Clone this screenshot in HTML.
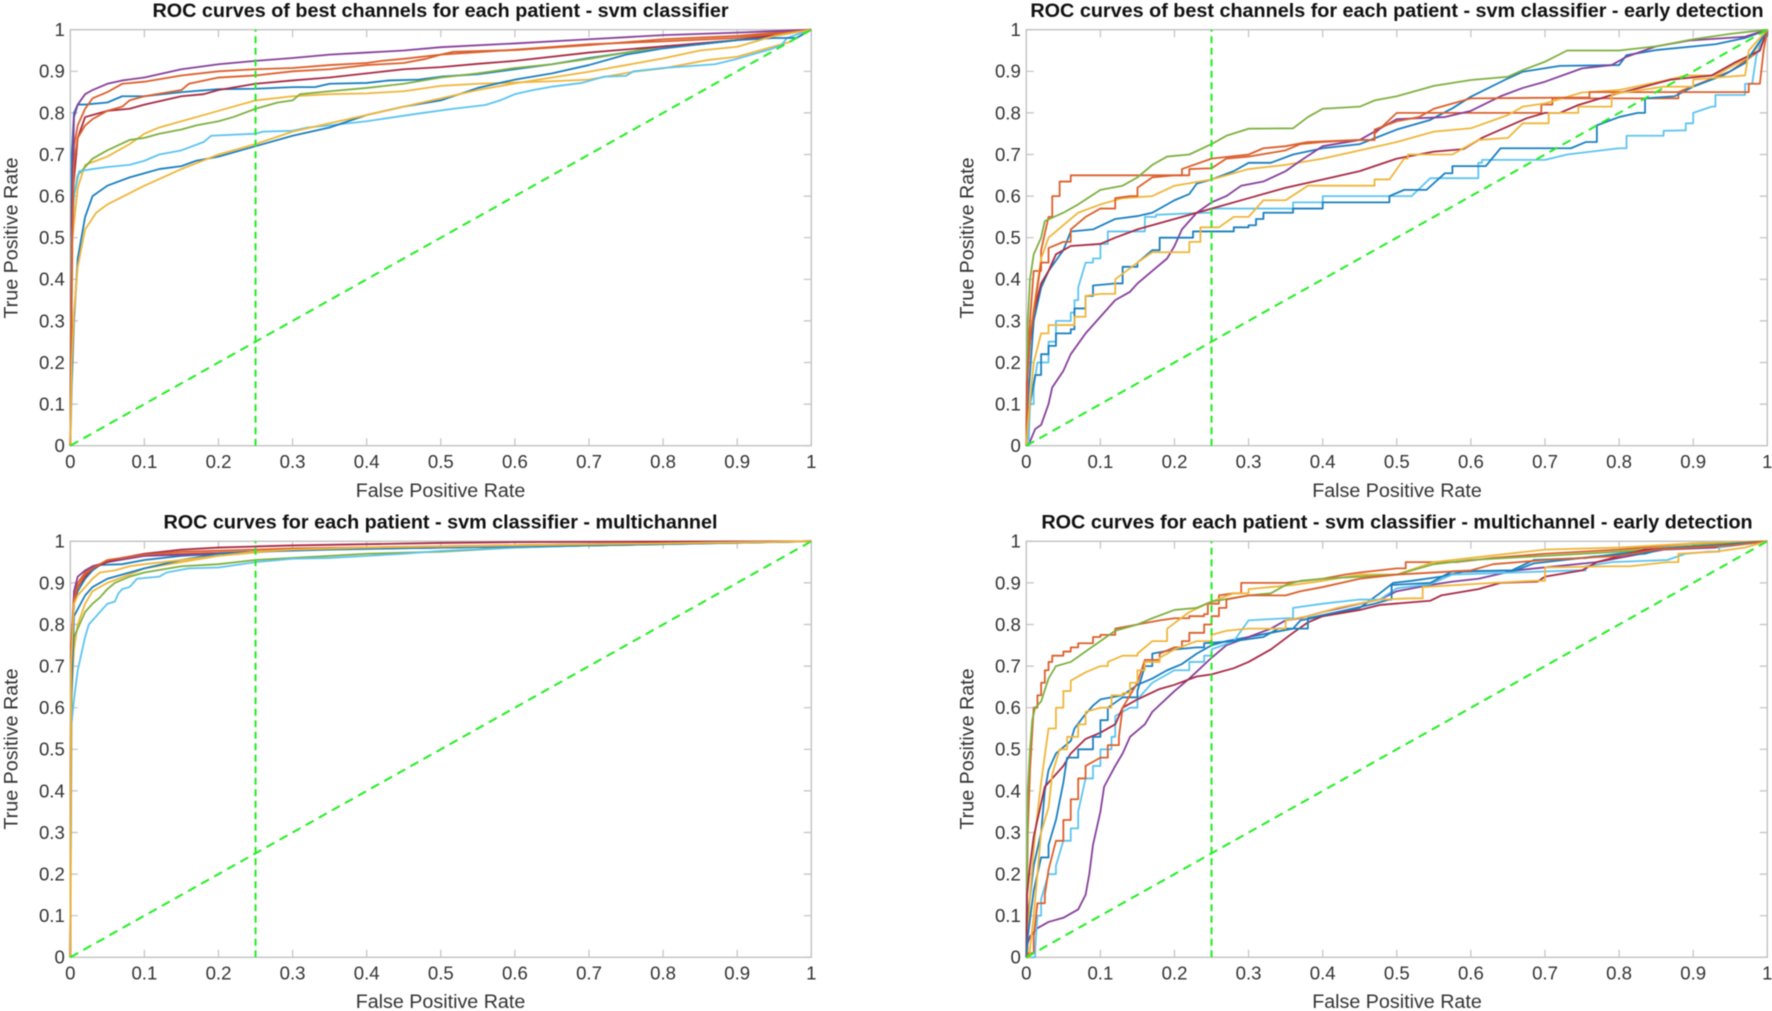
<!DOCTYPE html>
<html lang="en">
<head>
<meta charset="utf-8">
<title>ROC curves - svm classifier</title>
<style>
  html, body { margin: 0; padding: 0; background: #fff; }
  #figure { display: block; width: 1772px; height: 1011px; filter: blur(0.45px); }
  text { font-family: "Liberation Sans", Arial, sans-serif; }
  .title { font-size: 19.8px; font-weight: bold; fill: #111; text-anchor: middle; }
  .axis-title { font-size: 19.7px; fill: #333; text-anchor: middle; }
  .tick-label { font-size: 18.6px; fill: #333; }
</style>
</head>
<body>
<svg id="figure" xmlns="http://www.w3.org/2000/svg" width="1772" height="1011" viewBox="0 0 1772 1011">
  <rect x="0" y="0" width="1772" height="1011" fill="#fff"/>

  <g id="panel-tl">
    <text class="title" x="440.5" y="17">ROC curves of best channels for each patient - svm classifier</text>
    <text class="axis-title" x="440.5" y="497">False Positive Rate</text>
    <text class="axis-title" transform="translate(17.5,238) rotate(-90)">True Positive Rate</text>
  </g>
  <g id="panel-tr">
    <text class="title" x="1397" y="17">ROC curves of best channels for each patient - svm classifier - early detection</text>
    <text class="axis-title" x="1397" y="497">False Positive Rate</text>
    <text class="axis-title" transform="translate(973.5,238) rotate(-90)">True Positive Rate</text>
  </g>
  <g id="panel-bl">
    <text class="title" x="440.5" y="528.5">ROC curves for each patient - svm classifier - multichannel</text>
    <text class="axis-title" x="440.5" y="1008">False Positive Rate</text>
    <text class="axis-title" transform="translate(17.5,749) rotate(-90)">True Positive Rate</text>
  </g>
  <g id="panel-br">
    <text class="title" x="1397" y="528.5">ROC curves for each patient - svm classifier - multichannel - early detection</text>
    <text class="axis-title" x="1397" y="1008">False Positive Rate</text>
    <text class="axis-title" transform="translate(973.5,749) rotate(-90)">True Positive Rate</text>
  </g>
</svg>

<script>
// Axis data
const tickValues = [0, 0.1, 0.2, 0.3, 0.4, 0.5, 0.6, 0.7, 0.8, 0.9, 1];
const tickLabels = ['0', '0.1', '0.2', '0.3', '0.4', '0.5', '0.6', '0.7', '0.8', '0.9', '1'];
const thresholdFpr = [0.25];
const chanceLine = [[0, 0], [1, 1]];

// Top-left: best channels
const tlBlue1 = [[0,0],[.002,.7],[.005,.8],[.01,.82],[.02,.82],[.05,.825],[.07,.84],[.1,.84],[.15,.85],[.2,.857],[.25,.858],[.3,.862],[.33,.862],[.35,.87],[.4,.872],[.43,.878],[.47,.88],[.5,.887],[.55,.893],[.6,.905],[.65,.917],[.7,.932],[.75,.945],[.8,.96],[.85,.965],[.9,.975],[.95,.985],[1,1]];
const tlOrange1 = [[0,0],[.002,.5],[.005,.72],[.01,.77],[.02,.81],[.03,.835],[.05,.85],[.07,.87],[.1,.875],[.15,.89],[.2,.9],[.25,.905],[.3,.908],[.35,.915],[.4,.92],[.42,.925],[.45,.93],[.5,.94],[.517,.947],[.6,.951],[.7,.963],[.8,.977],[.9,.985],[1,1]];
const tlYellow1 = [[0,0],[.003,.5],[.01,.62],[.02,.675],[.035,.685],[.05,.695],[.08,.725],[.1,.75],[.12,.765],[.15,.78],[.2,.805],[.25,.83],[.3,.84],[.35,.845],[.4,.847],[.45,.852],[.5,.865],[.55,.87],[.6,.873],[.65,.876],[.7,.88],[.76,.899],[.8,.907],[.86,.927],[.9,.935],[.97,.97],[1,1]];
const tlPurple = [[0,0],[.002,.55],[.005,.79],[.01,.82],[.02,.845],[.03,.855],[.05,.87],[.07,.878],[.1,.885],[.15,.905],[.2,.917],[.25,.925],[.3,.932],[.35,.94],[.4,.945],[.45,.95],[.5,.958],[.6,.967],[.7,.977],[.8,.987],[.9,.993],[1,1]];
const tlGreen = [[0,0],[.002,.5],[.005,.6],[.01,.65],[.02,.67],[.03,.69],[.05,.71],[.08,.735],[.1,.74],[.12,.75],[.15,.76],[.17,.77],[.2,.78],[.22,.79],[.25,.81],[.28,.825],[.3,.83],[.31,.845],[.35,.852],[.4,.86],[.45,.87],[.5,.885],[.55,.895],[.6,.908],[.65,.917],[.7,.93],[.75,.945],[.8,.96],[.85,.965],[.9,.975],[1,1]];
const tlLightBlue = [[0,0],[.002,.5],[.005,.6],[.012,.66],[.03,.665],[.05,.67],[.08,.675],[.1,.685],[.12,.7],[.15,.71],[.18,.73],[.19,.745],[.25,.75],[.26,.755],[.3,.757],[.32,.765],[.35,.77],[.4,.78],[.472,.799],[.517,.81],[.56,.819],[.58,.83],[.6,.845],[.625,.855],[.65,.863],[.69,.872],[.72,.887],[.75,.889],[.76,.9],[.8,.908],[.87,.917],[.9,.93],[.945,.953],[.96,.963],[.967,.98],[1,1]];
const tlDarkRed = [[0,0],[.003,.6],[.01,.74],[.02,.79],[.03,.795],[.05,.805],[.08,.81],[.1,.82],[.15,.84],[.18,.845],[.2,.855],[.25,.87],[.3,.878],[.35,.885],[.4,.895],[.45,.905],[.5,.91],[.55,.918],[.6,.925],[.7,.945],[.8,.96],[.9,.975],[1,1]];
const tlBlue2 = [[0,0],[.002,.15],[.005,.3],[.01,.45],[.02,.55],[.03,.6],[.05,.625],[.08,.645],[.1,.655],[.12,.665],[.15,.672],[.17,.685],[.2,.695],[.25,.72],[.3,.745],[.35,.765],[.4,.795],[.45,.815],[.5,.83],[.55,.86],[.6,.88],[.65,.895],[.7,.915],[.75,.94],[.8,.955],[.85,.965],[.9,.975],[.95,.98],[.98,.98],[1,1]];
const tlOrange2 = [[0,0],[.002,.45],[.005,.68],[.01,.74],[.02,.77],[.03,.785],[.05,.805],[.07,.815],[.08,.83],[.1,.84],[.15,.855],[.16,.87],[.2,.885],[.25,.89],[.3,.9],[.35,.905],[.4,.915],[.45,.92],[.48,.93],[.5,.94],[.6,.952],[.7,.965],[.8,.972],[.9,.98],[1,1]];
const tlYellow2 = [[0,0],[.002,.2],[.005,.32],[.01,.43],[.02,.52],[.035,.56],[.05,.58],[.1,.625],[.15,.665],[.2,.7],[.25,.725],[.3,.755],[.35,.775],[.4,.795],[.45,.815],[.5,.835],[.55,.855],[.6,.871],[.65,.885],[.7,.899],[.75,.915],[.8,.931],[.85,.95],[.9,.959],[.95,.985],[1,1]];

// Top-right: best channels, early detection
const trBlue1 = [[0,0],[.002,.1],[.01,.3],[.02,.38],[.03,.42],[.05,.47],[.06,.515],[.09,.52],[.12,.545],[.15,.552],[.17,.56],[.2,.59],[.22,.605],[.23,.63],[.25,.64],[.28,.66],[.3,.68],[.33,.68],[.36,.7],[.4,.715],[.45,.725],[.5,.76],[.545,.783],[.575,.811],[.6,.839],[.65,.883],[.67,.899],[.72,.913],[.8,.915],[.81,.939],[.85,.951],[.93,.965],[.97,.98],[1,1]];
const trOrange1 = [[0,0],[.002,.2],[.005,.3],[.01,.42],[.02,.47],[.03,.55],[.035,.6],[.045,.635],[.06,.65],[.2,.65],[.21,.665],[.25,.69],[.3,.7],[.32,.715],[.35,.72],[.38,.73],[.45,.735],[.47,.75],[.5,.8],[.69,.8],[.695,.82],[.71,.835],[.875,.835],[.88,.85],[.95,.9],[.99,.95],[1,1]];
const trYellow1 = [[0,0],[.002,.2],[.01,.33],[.02,.45],[.03,.5],[.05,.53],[.07,.56],[.1,.58],[.13,.595],[.17,.6],[.2,.625],[.25,.64],[.3,.665],[.35,.675],[.4,.69],[.45,.71],[.5,.73],[.55,.755],[.6,.763],[.65,.795],[.67,.815],[.7,.823],[.75,.849],[.8,.855],[.86,.877],[.89,.89],[.93,.89],[.98,.94],[1,1]];
const trPurple = [[0,0],[.005,.01],[.012,.04],[.02,.05],[.03,.1],[.035,.14],[.05,.18],[.06,.22],[.08,.27],[.1,.31],[.12,.35],[.14,.37],[.15,.39],[.17,.42],[.19,.45],[.2,.48],[.21,.52],[.23,.56],[.25,.585],[.27,.6],[.29,.625],[.32,.635],[.35,.66],[.37,.685],[.4,.72],[.45,.735],[.48,.765],[.5,.785],[.565,.79],[.6,.805],[.64,.84],[.67,.86],[.7,.875],[.75,.907],[.79,.915],[.81,.935],[.85,.96],[.895,.974],[.97,.983],[1,1]];
const trGreen = [[0,0],[.002,.3],[.005,.4],[.01,.46],[.02,.5],[.025,.54],[.05,.56],[.07,.58],[.1,.615],[.13,.625],[.15,.645],[.17,.675],[.19,.695],[.22,.7],[.25,.725],[.27,.745],[.3,.762],[.36,.763],[.38,.79],[.4,.81],[.45,.815],[.47,.83],[.5,.84],[.55,.865],[.6,.879],[.65,.887],[.67,.903],[.7,.923],[.73,.95],[.8,.95],[.85,.96],[.9,.977],[.95,.99],[1,1]];
const trLightBlue = [[0,0],[.003,0],[.005,.1],[.01,.14],[.015,.2],[.03,.25],[.04,.3],[.06,.32],[.065,.35],[.07,.38],[.08,.44],[.09,.45],[.1,.485],[.11,.515],[.15,.515],[.16,.55],[.175,.555],[.24,.56],[.25,.57],[.35,.57],[.36,.585],[.39,.585],[.4,.6],[.52,.6],[.545,.643],[.6,.643],[.61,.68],[.615,.687],[.7,.687],[.73,.7],[.8,.715],[.81,.745],[.855,.745],[.86,.757],[.885,.758],[.89,.775],[.9,.8],[.925,.815],[.93,.843],[.965,.843],[.97,.87],[.98,.875],[.985,.935],[.995,.99],[1,1]];
const trDarkRed = [[0,0],[.001,.15],[.005,.25],[.01,.32],[.02,.39],[.03,.42],[.04,.46],[.06,.48],[.1,.485],[.12,.5],[.15,.52],[.2,.545],[.25,.57],[.3,.595],[.35,.62],[.4,.64],[.45,.66],[.5,.69],[.55,.707],[.59,.713],[.615,.74],[.675,.787],[.7,.8],[.72,.8],[.745,.819],[.79,.843],[.825,.859],[.87,.88],[.925,.89],[.955,.92],[.99,.95],[1,1]];
const trBlue2 = [[0,0],[.002,.05],[.005,.1],[.012,.17],[.02,.22],[.03,.24],[.04,.27],[.06,.28],[.065,.33],[.08,.36],[.09,.385],[.12,.39],[.13,.43],[.15,.44],[.17,.47],[.18,.5],[.22,.5],[.225,.515],[.27,.515],[.28,.525],[.3,.53],[.31,.545],[.32,.56],[.35,.56],[.36,.57],[.39,.57],[.4,.585],[.48,.585],[.49,.6],[.51,.615],[.54,.615],[.565,.655],[.575,.672],[.62,.672],[.64,.715],[.735,.715],[.755,.73],[.77,.77],[.8,.79],[.825,.8],[.835,.835],[.875,.84],[.9,.863],[.94,.89],[.97,.92],[.995,.985],[1,1]];
const trOrange2 = [[0,0],[.002,.18],[.005,.26],[.01,.32],[.02,.44],[.03,.475],[.05,.49],[.06,.52],[.08,.55],[.1,.57],[.12,.595],[.14,.6],[.15,.62],[.17,.645],[.2,.65],[.22,.665],[.25,.667],[.27,.69],[.3,.695],[.35,.71],[.37,.725],[.4,.73],[.45,.735],[.47,.76],[.5,.78],[.53,.79],[.55,.81],[.6,.835],[.75,.837],[.76,.85],[.967,.85],[.975,.87],[.99,.87],[.995,.95],[1,1]];
const trYellow2 = [[0,0],[.002,.05],[.01,.2],[.02,.27],[.03,.29],[.05,.29],[.065,.31],[.08,.36],[.1,.365],[.12,.4],[.15,.44],[.17,.465],[.2,.465],[.22,.49],[.235,.525],[.26,.525],[.28,.55],[.3,.55],[.32,.59],[.35,.59],[.38,.625],[.45,.625],[.47,.64],[.49,.64],[.51,.69],[.515,.7],[.575,.7],[.61,.735],[.65,.74],[.67,.775],[.695,.775],[.705,.8],[.73,.8],[.745,.815],[.775,.815],[.79,.845],[.86,.863],[.89,.863],[.9,.88],[.945,.887],[.97,.89],[.975,.95],[1,1]];

// Bottom-left: multichannel
const blBlue1 = [[0,0],[.001,.7],[.005,.85],[.01,.88],[.02,.91],[.03,.93],[.04,.943],[.07,.945],[.1,.955],[.15,.965],[.2,.97],[.25,.975],[.3,.98],[.5,.985],[.7,.99],[1,1]];
const blOrange1 = [[0,0],[.001,.75],[.005,.87],[.01,.9],[.02,.925],[.03,.94],[.05,.95],[.07,.96],[.1,.965],[.15,.97],[.25,.975],[.3,.98],[.5,.985],[.6,.99],[1,1]];
const blYellow1 = [[0,0],[.001,.6],[.005,.74],[.01,.8],[.02,.85],[.03,.88],[.05,.9],[.08,.92],[.1,.935],[.15,.95],[.2,.965],[.25,.973],[.3,.98],[.4,.985],[.5,.985],[.6,.99],[1,1]];
const blPurple = [[0,0],[.001,.7],[.005,.88],[.01,.915],[.02,.93],[.03,.94],[.05,.95],[.1,.965],[.2,.97],[.3,.98],[.5,.985],[1,1]];
const blGreen = [[0,0],[.002,.7],[.005,.77],[.01,.79],[.02,.83],[.03,.85],[.04,.865],[.05,.885],[.06,.9],[.08,.915],[.1,.925],[.15,.94],[.2,.945],[.25,.955],[.3,.96],[.35,.965],[.4,.97],[.5,.975],[.6,.985],[.7,.99],[.8,.993],[1,1]];
const blLightBlue = [[0,0],[.001,.55],[.005,.62],[.01,.69],[.015,.73],[.02,.77],[.025,.8],[.035,.82],[.05,.85],[.06,.855],[.065,.875],[.07,.885],[.08,.89],[.09,.91],[.12,.915],[.13,.925],[.16,.935],[.2,.937],[.25,.95],[.3,.958],[.35,.96],[.4,.965],[.45,.97],[.5,.977],[.6,.985],[.7,.99],[.8,.995],[1,1]];
const blDarkRed = [[0,0],[.001,.72],[.005,.85],[.01,.89],[.02,.915],[.03,.935],[.05,.95],[.07,.96],[.1,.97],[.15,.98],[.2,.985],[.3,.99],[.4,.993],[.5,.996],[.6,.998],[1,1]];
const blBlue2 = [[0,0],[.001,.6],[.005,.82],[.02,.87],[.03,.89],[.05,.91],[.08,.925],[.1,.935],[.15,.955],[.2,.97],[.25,.975],[.35,.98],[.5,.985],[.7,.99],[1,1]];
const blOrange2 = [[0,0],[.001,.72],[.005,.86],[.01,.89],[.02,.92],[.03,.935],[.05,.955],[.07,.96],[.1,.968],[.15,.975],[.25,.98],[.3,.983],[.5,.988],[.7,.993],[1,1]];
const blYellow2 = [[0,0],[.001,.7],[.005,.85],[.01,.87],[.02,.89],[.03,.91],[.04,.925],[.06,.93],[.08,.94],[.1,.945],[.15,.955],[.2,.965],[.25,.975],[.3,.98],[.4,.985],[.6,.99],[1,1]];

// Bottom-right: multichannel, early detection
const brBlue1 = [[0,0],[.002,.1],[.01,.22],[.02,.3],[.025,.4],[.03,.45],[.04,.49],[.06,.52],[.065,.55],[.08,.585],[.09,.605],[.1,.62],[.13,.63],[.15,.655],[.17,.67],[.19,.69],[.21,.705],[.23,.73],[.25,.75],[.27,.76],[.3,.77],[.33,.78],[.36,.79],[.37,.81],[.4,.82],[.45,.84],[.477,.875],[.495,.9],[.52,.905],[.56,.915],[.59,.927],[.655,.93],[.685,.955],[.755,.96],[.8,.97],[.86,.983],[.93,.99],[1,1]];
const brOrange1 = [[0,0],[.002,.3],[.005,.45],[.01,.6],[.015,.63],[.02,.66],[.025,.69],[.03,.71],[.035,.725],[.05,.735],[.06,.745],[.07,.755],[.09,.77],[.1,.775],[.12,.79],[.15,.8],[.18,.81],[.2,.815],[.22,.82],[.24,.825],[.245,.85],[.26,.87],[.28,.875],[.29,.9],[.35,.9],[.4,.91],[.43,.92],[.45,.925],[.5,.935],[.512,.95],[.58,.95],[.63,.96],[.7,.97],[.8,.98],[.9,.995],[1,1]];
const brYellow1 = [[0,0],[.002,.03],[.005,.15],[.012,.3],[.02,.42],[.03,.55],[.04,.6],[.05,.64],[.06,.665],[.08,.685],[.1,.7],[.11,.71],[.13,.725],[.15,.73],[.17,.76],[.19,.79],[.22,.83],[.25,.855],[.28,.875],[.3,.885],[.33,.89],[.36,.895],[.4,.905],[.45,.92],[.5,.92],[.55,.95],[.6,.96],[.7,.98],[.8,.985],[.9,.995],[1,1]];
const brPurple = [[0,0],[.001,.03],[.005,.05],[.015,.07],[.03,.085],[.05,.095],[.07,.115],[.08,.15],[.085,.2],[.09,.27],[.1,.35],[.105,.41],[.12,.46],[.13,.49],[.14,.53],[.16,.56],[.17,.59],[.2,.64],[.22,.67],[.25,.72],[.27,.75],[.3,.77],[.33,.79],[.35,.81],[.37,.815],[.4,.83],[.45,.85],[.477,.86],[.5,.88],[.545,.895],[.575,.903],[.61,.91],[.66,.93],[.77,.95],[.86,.98],[.93,.985],[1,1]];
const brGreen = [[0,0],[.002,.4],[.005,.5],[.008,.57],[.012,.6],[.02,.615],[.03,.67],[.04,.7],[.06,.71],[.08,.735],[.1,.76],[.12,.785],[.15,.8],[.17,.815],[.2,.835],[.23,.84],[.25,.855],[.3,.87],[.33,.875],[.35,.895],[.37,.905],[.4,.91],[.5,.92],[.55,.945],[.6,.955],[.7,.965],[.8,.975],[.9,.99],[1,1]];
const brLightBlue = [[0,0],[.005,0],[.012,.02],[.015,.1],[.02,.14],[.03,.2],[.04,.22],[.05,.28],[.06,.31],[.07,.35],[.08,.43],[.09,.46],[.1,.5],[.115,.53],[.12,.58],[.14,.6],[.15,.62],[.17,.66],[.2,.69],[.22,.71],[.24,.725],[.25,.74],[.28,.76],[.3,.81],[.35,.815],[.36,.84],[.4,.85],[.45,.86],[.477,.86],[.5,.887],[.545,.897],[.575,.92],[.66,.925],[.74,.93],[.755,.94],[.79,.95],[.865,.955],[.89,.97],[.92,.975],[.935,.985],[1,1]];
const brDarkRed = [[0,0],[.001,.15],[.005,.22],[.01,.29],[.015,.33],[.02,.37],[.025,.41],[.04,.44],[.05,.46],[.06,.49],[.08,.525],[.1,.54],[.12,.56],[.13,.6],[.15,.62],[.18,.645],[.2,.655],[.23,.675],[.25,.68],[.28,.695],[.3,.71],[.33,.74],[.36,.78],[.38,.805],[.4,.82],[.45,.835],[.477,.847],[.545,.857],[.56,.87],[.61,.885],[.64,.9],[.69,.903],[.7,.915],[.75,.93],[.77,.95],[.835,.98],[.93,.99],[1,1]];
const brBlue2 = [[0,0],[.002,.05],[.01,.16],[.02,.24],[.03,.27],[.04,.33],[.05,.42],[.055,.48],[.07,.5],[.09,.53],[.1,.57],[.11,.6],[.13,.625],[.15,.64],[.16,.7],[.17,.73],[.2,.74],[.23,.745],[.24,.755],[.28,.76],[.32,.77],[.34,.79],[.37,.79],[.38,.815],[.42,.83],[.47,.85],[.49,.86],[.493,.895],[.545,.9],[.575,.928],[.66,.93],[.685,.947],[.765,.963],[.835,.97],[.86,.983],[.93,.99],[1,1]];
const brOrange2 = [[0,0],[.002,.01],[.01,.05],[.015,.13],[.025,.15],[.03,.21],[.04,.28],[.05,.33],[.06,.38],[.07,.43],[.08,.46],[.1,.48],[.11,.51],[.125,.53],[.13,.6],[.15,.66],[.16,.715],[.18,.73],[.2,.745],[.21,.76],[.22,.78],[.24,.8],[.25,.82],[.26,.84],[.27,.86],[.3,.87],[.35,.87],[.37,.88],[.4,.89],[.45,.91],[.5,.92],[.6,.93],[.63,.945],[.7,.955],[.8,.965],[.85,.98],[.95,.99],[1,1]];
const brYellow2 = [[0,0],[.005,.02],[.01,.1],[.015,.2],[.02,.3],[.03,.36],[.035,.44],[.045,.5],[.055,.53],[.07,.56],[.08,.59],[.1,.6],[.115,.63],[.13,.635],[.14,.66],[.15,.69],[.16,.71],[.18,.72],[.2,.74],[.23,.76],[.25,.775],[.27,.785],[.3,.79],[.33,.79],[.35,.81],[.38,.82],[.42,.84],[.477,.86],[.52,.863],[.535,.89],[.63,.9],[.685,.905],[.7,.937],[.79,.94],[.815,.94],[.865,.95],[.88,.97],[.93,.975],[.97,.985],[1,1]];

// Series colour cycle (MATLAB default order)
const seriesNames = ['blue-1', 'orange-1', 'yellow-1', 'purple', 'green', 'light-blue', 'dark-red', 'blue-2', 'orange-2', 'yellow-2'];
const seriesColors = ['#1a7fc0', '#dc5f2b', '#efb63a', '#86409a', '#7fb040', '#5cc4f0', '#a82a45', '#1a7fc0', '#dc5f2b', '#efb63a'];

const panels = [
  { id: 'panel-tl', left: 70.3,   top: 29.7,  series: [tlBlue1, tlOrange1, tlYellow1, tlPurple, tlGreen, tlLightBlue, tlDarkRed, tlBlue2, tlOrange2, tlYellow2], stepped: [] },
  { id: 'panel-tr', left: 1026.3, top: 29.7,  series: [trBlue1, trOrange1, trYellow1, trPurple, trGreen, trLightBlue, trDarkRed, trBlue2, trOrange2, trYellow2], stepped: [1, 5, 7, 8, 9] },
  { id: 'panel-bl', left: 70.3,   top: 541.3, series: [blBlue1, blOrange1, blYellow1, blPurple, blGreen, blLightBlue, blDarkRed, blBlue2, blOrange2, blYellow2], stepped: [] },
  { id: 'panel-br', left: 1026.3, top: 541.3, series: [brBlue1, brOrange1, brYellow1, brPurple, brGreen, brLightBlue, brDarkRed, brBlue2, brOrange2, brYellow2], stepped: [1, 2, 5, 7, 8, 9] }
];

const plotWidth = 741;
const plotHeight = 416;
const SVG_NS = 'http://www.w3.org/2000/svg';

function xScale(panel, v) { return panel.left + v * plotWidth; }
function yScale(panel, v) { return panel.top + (1 - v) * plotHeight; }

// Stepped series draw H/V only for short runs; longer spans stay straight.
function linePath(panel, points, stepped) {
  let d = '';
  points.forEach(function (p, i) {
    const x = xScale(panel, p[0]).toFixed(2);
    const y = yScale(panel, p[1]).toFixed(2);
    if (i === 0) { d += 'M' + x + ' ' + y; return; }
    const prev = points[i - 1];
    const flat = p[1] === prev[1];
    const shortRun = (p[0] - prev[0]) < 0.02 && (p[1] - prev[1]) < 0.05;
    if (stepped && !flat && shortRun) { d += 'H' + x + 'V' + y; }
    else { d += 'L' + x + ' ' + y; }
  });
  return d;
}

function addEl(parent, tag, attrs) {
  const el = document.createElementNS(SVG_NS, tag);
  Object.keys(attrs).forEach(function (k) { el.setAttribute(k, attrs[k]); });
  parent.appendChild(el);
  return el;
}

panels.forEach(function (panel) {
  const g = document.getElementById(panel.id);
  const axisColor = '#c2c2c2';
  const x0 = xScale(panel, 0), x1 = xScale(panel, 1);
  const y0 = yScale(panel, 0), y1 = yScale(panel, 1);

  const box = addEl(g, 'rect', { x: x0, y: y1, width: plotWidth, height: plotHeight, fill: 'none', stroke: axisColor, 'stroke-width': 1.4 });
  
  

  tickValues.forEach(function (v, i) {
    const tx = xScale(panel, v);
    const ty = yScale(panel, v);
    const ticks = addEl(g, 'path', {
      d: 'M' + tx + ' ' + y0 + 'v-7.5M' + tx + ' ' + y1 + 'v7.5M' + x0 + ' ' + ty + 'h7.5M' + x1 + ' ' + ty + 'h-7.5',
      fill: 'none', stroke: axisColor, 'stroke-width': 1.2
    });
    
    

    const xt = addEl(g, 'text', { class: 'tick-label', x: tx, y: y0 + 22.3, 'text-anchor': 'middle' });
    xt.textContent = tickLabels[i];
    
    

    const yt = addEl(g, 'text', { class: 'tick-label', x: x0 - 5.5, y: ty + 6.4, 'text-anchor': 'end' });
    yt.textContent = tickLabels[i];
    
    
  });

  panel.series.forEach(function (points, i) {
    const line = addEl(g, 'path', {
      d: linePath(panel, points, panel.stepped.indexOf(i) !== -1),
      fill: 'none', stroke: seriesColors[i], 'stroke-width': 1.8, 'stroke-linejoin': 'round'
    });
    
    
  });

  const chance = addEl(g, 'path', {
    d: linePath(panel, chanceLine, false),
    fill: 'none', stroke: '#22ee22', 'stroke-width': 2, 'stroke-dasharray': '9 6'
  });
  
  

  const threshold = addEl(g, 'path', {
    d: linePath(panel, [[thresholdFpr[0], 0], [thresholdFpr[0], 1]], false),
    fill: 'none', stroke: '#22ee22', 'stroke-width': 2, 'stroke-dasharray': '7 4.5'
  });
  
  
});
</script>
</body>
</html>
